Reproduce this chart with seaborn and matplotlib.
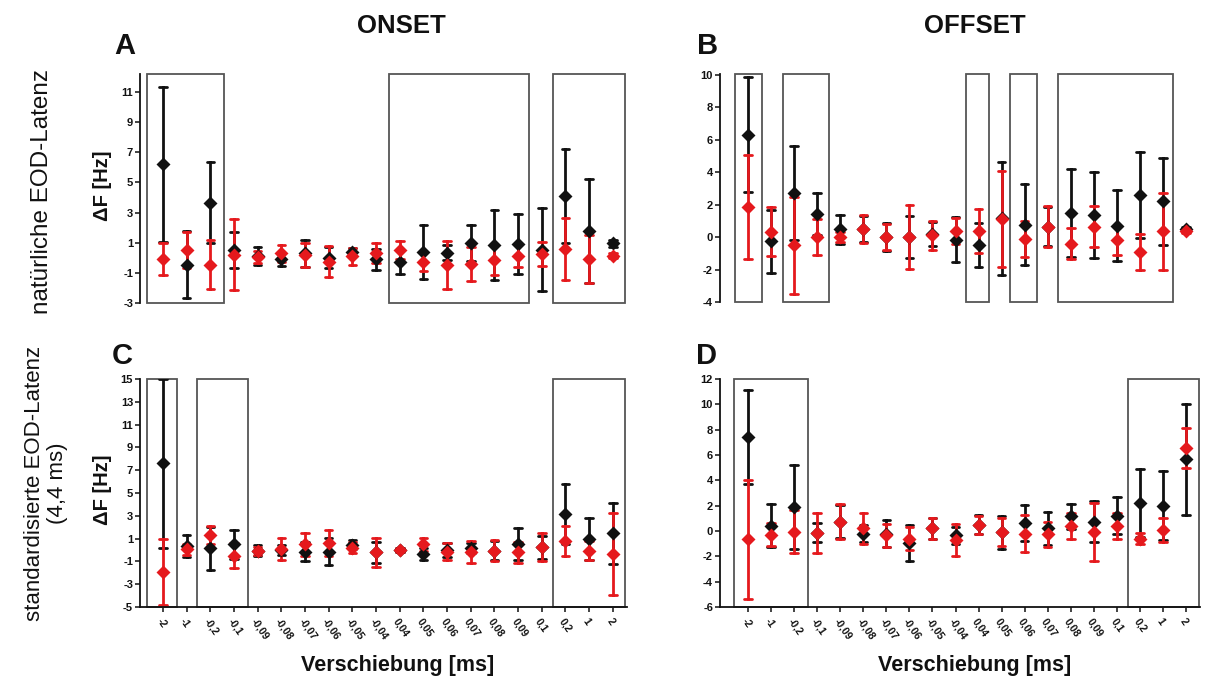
import numpy as np
import pandas as pd
import matplotlib
matplotlib.use("Agg")
import matplotlib.pyplot as plt
import seaborn as sns

# Shift categories (ms), German decimal notation
shift_labels = ["-2", "-1", "-0,2", "-0,1", "-0,09", "-0,08", "-0,07", "-0,06", "-0,05", "-0,04",
                "0,04", "0,05", "0,06", "0,07", "0,08", "0,09", "0,1", "0,2", "1", "2"]

# A: natural EOD latency, onset
a_black_mean = [6.2, -0.45, 3.65, 0.5, 0.1, -0.1, 0.3, 0.0, 0.4, -0.1,
                -0.3, 0.4, 0.35, 1.0, 0.85, 0.9, 0.55, 4.1, 1.75, 0.95]
a_black_sd = [5.15, 2.2, 2.7, 1.2, 0.6, 0.45, 0.9, 0.7, 0.25, 0.7,
              0.8, 1.8, 0.5, 1.2, 2.35, 2.0, 2.75, 3.1, 3.45, 0.2]
a_red_mean = [-0.1, 0.5, -0.45, 0.2, 0.05, 0.3, 0.2, -0.25, 0.1, 0.3,
              0.5, -0.25, -0.5, -0.4, -0.15, 0.15, 0.25, 0.6, -0.1, 0.15]
a_red_sd = [1.05, 1.2, 1.6, 2.35, 0.4, 0.55, 0.8, 1.05, 0.55, 0.65,
            0.6, 0.65, 1.6, 1.15, 1.0, 0.75, 0.8, 2.05, 1.6, 0.15]

# B: natural EOD latency, offset
b_black_mean = [6.3, -0.25, 2.7, 1.4, 0.47, 0.5, 0.0, 0.0, 0.2, -0.15,
                -0.5, 1.15, 0.75, 0.65, 1.5, 1.35, 0.7, 2.6, 2.2, 0.5]
b_black_sd = [3.55, 1.95, 2.9, 1.3, 0.9, 0.8, 0.85, 1.3, 0.75, 1.4,
              1.35, 3.5, 2.5, 1.2, 2.7, 2.65, 2.2, 2.65, 2.7, 0.15]
b_red_mean = [1.85, 0.33, -0.5, 0.0, 0.0, 0.5, 0.0, 0.0, 0.1, 0.35,
              0.4, 1.1, -0.1, 0.65, -0.4, 0.65, -0.2, -0.9, 0.35, 0.35]
b_red_sd = [3.2, 1.5, 3.0, 1.1, 0.3, 0.85, 0.8, 1.95, 0.9, 0.8,
            1.35, 2.95, 1.1, 1.25, 0.95, 1.25, 0.9, 1.1, 2.35, 0.12]

# C: standardised EOD latency (4,4 ms), onset
c_black_mean = [7.6, 0.35, 0.15, 0.5, -0.05, 0.0, -0.15, -0.15, 0.45, -0.2,
                0.0, -0.35, 0.0, 0.2, -0.05, 0.5, 0.25, 3.15, 1.0, 1.45]
c_black_sd = [7.4, 0.95, 1.9, 1.25, 0.5, 0.45, 0.85, 1.2, 0.4, 0.9,
              0.2, 0.5, 0.6, 0.45, 0.8, 1.4, 1.0, 2.6, 1.85, 2.65]
c_red_mean = [-1.9, 0.07, 1.3, -0.5, -0.1, 0.1, 0.5, 0.6, 0.2, -0.2,
              0.0, 0.5, -0.15, -0.2, -0.05, -0.2, 0.25, 0.8, -0.05, -0.35]
c_red_sd = [2.9, 0.5, 0.8, 1.1, 0.35, 0.95, 1.0, 1.15, 0.5, 1.25,
            0.2, 0.55, 0.75, 0.95, 0.95, 0.9, 1.2, 1.3, 0.8, 3.6]

# D: standardised EOD latency (4,4 ms), offset
d_black_mean = [7.45, 0.4, 1.9, -0.15, 0.75, -0.2, -0.2, -0.95, 0.2, -0.35,
                0.5, -0.1, 0.65, 0.2, 1.15, 0.75, 1.2, 2.2, 2.0, 5.65]
d_black_sd = [3.7, 1.7, 3.3, 0.75, 1.3, 0.7, 1.1, 1.4, 0.85, 0.7,
              0.75, 1.3, 1.4, 1.3, 1.0, 1.6, 1.45, 2.7, 2.7, 4.4]
d_red_mean = [-0.65, -0.3, -0.05, -0.15, 0.75, 0.2, -0.35, -0.6, 0.2, -0.7,
              0.5, -0.05, -0.2, -0.25, 0.4, -0.05, 0.4, -0.6, 0.05, 6.55]
d_red_sd = [4.7, 0.9, 1.7, 1.6, 1.35, 1.2, 0.9, 0.9, 0.85, 1.25,
            0.7, 1.1, 1.45, 1.0, 1.0, 2.3, 1.0, 0.45, 0.95, 1.6]

# Highlighted shift ranges (category index spans)
a_boxes = [(-0.68, 2.58), (9.55, 15.47), (16.49, 19.5)]
b_boxes = [(-0.56, 0.61), (1.52, 3.5), (9.46, 10.46), (11.37, 12.54), (13.45, 18.43)]
c_boxes = [(-0.68, 0.59), (1.44, 3.59), (16.49, 19.5)]
d_boxes = [(-0.6, 2.6), (16.5, 19.55)]

BLACK = "#111111"
RED = "#e5191d"
BOX = "#555555"


def long_frame(b_mean, b_sd, r_mean, r_sd):
    """Three rows per point (mean-sd, mean, mean+sd): median gives the point,
    the full percentile interval gives the error bar."""
    rows = []
    for grp, means, sds in (("black", b_mean, b_sd), ("red", r_mean, r_sd)):
        for lab, m, s in zip(shift_labels, means, sds):
            for v in (m - s, m, m + s):
                rows.append((lab, grp, v))
    return pd.DataFrame(rows, columns=["shift", "group", "dF"])


sns.set_theme(style="ticks")
plt.rcParams["font.family"] = ["Liberation Sans", "DejaVu Sans"]

fig = plt.figure(figsize=(12.17, 6.82), dpi=100)
W, H = 1217.0, 682.0


def axes_px(left, top, right, bottom):
    return fig.add_axes([left / W, 1 - bottom / H, (right - left) / W, (bottom - top) / H])


def draw_panel(ax, df, ylim, yticks, boxes, xlim, bottom_row):
    for x0, x1 in boxes:
        ax.axvspan(x0, x1, facecolor="none", edgecolor=BOX, lw=1.3, zorder=1, clip_on=False)
    sns.pointplot(data=df, x="shift", y="dF", hue="group", order=shift_labels,
                  hue_order=["black", "red"], palette={"black": BLACK, "red": RED},
                  estimator="median", errorbar=("pi", 100), markers="D", linestyles="none",
                  capsize=0.32, err_kws={"linewidth": 2.0}, markersize=5.3, dodge=False,
                  legend=False, ax=ax)
    for ln in ax.lines:
        if ln.get_marker() not in (None, "None", "", " "):
            ln.set_zorder(6)
    ax.set_xlim(*xlim)
    ax.set_ylim(*ylim)
    ax.set_yticks(yticks)
    ax.set_yticklabels([str(t) for t in yticks], fontsize=8, fontweight="bold")
    ax.set_xlabel("")
    ax.set_ylabel("")
    sns.despine(ax=ax)
    for side in ("left", "bottom"):
        ax.spines[side].set_linewidth(1.3)
        ax.spines[side].set_color("#111111")
    ax.tick_params(axis="y", length=3.5, width=1.1, pad=1.5, colors="#111111")
    if bottom_row:
        ax.set_xticks(range(len(shift_labels)))
        ax.set_xticklabels(shift_labels, rotation=-55, ha="left", va="top",
                           rotation_mode="anchor", fontsize=7.5, fontweight="bold")
        ax.tick_params(axis="x", length=3.5, width=1.1, pad=3.5, colors="#111111")
    else:
        ax.spines["bottom"].set_visible(False)
        ax.tick_params(axis="x", bottom=False, labelbottom=False)


ax_a = axes_px(140, 74, 627, 303)
ax_b = axes_px(720, 74, 1200, 302)
ax_c = axes_px(140, 379, 627, 607)
ax_d = axes_px(720, 379, 1200, 607)

draw_panel(ax_a, long_frame(a_black_mean, a_black_sd, a_red_mean, a_red_sd),
           (-3, 12.2), [-3, -1, 1, 3, 5, 7, 9, 11], a_boxes, (-0.97, 19.6), False)
draw_panel(ax_b, long_frame(b_black_mean, b_black_sd, b_red_mean, b_red_sd),
           (-4, 10.05), [-4, -2, 0, 2, 4, 6, 8, 10], b_boxes, (-1.21, 19.6), False)
draw_panel(ax_c, long_frame(c_black_mean, c_black_sd, c_red_mean, c_red_sd),
           (-5, 15), list(range(-5, 16, 2)), c_boxes, (-0.97, 19.6), True)
draw_panel(ax_d, long_frame(d_black_mean, d_black_sd, d_red_mean, d_red_sd),
           (-6, 12), list(range(-6, 13, 2)), d_boxes, (-1.21, 19.6), True)


def ftext(px, py, s, **kw):
    fig.text(px / W, 1 - py / H, s, ha="center", va="center", color="#111111", **kw)


ftext(401, 26, "ONSET", fontsize=18.5, fontweight="bold")
ftext(975, 26, "OFFSET", fontsize=18.5, fontweight="bold")
ftext(125, 46, "A", fontsize=21, fontweight="bold")
ftext(708, 46, "B", fontsize=21, fontweight="bold")
ftext(122, 356, "C", fontsize=21, fontweight="bold")
ftext(707, 356, "D", fontsize=21, fontweight="bold")
ftext(102, 186, "ΔF [Hz]", fontsize=14.5, fontweight="bold", rotation=90)
ftext(102, 490, "ΔF [Hz]", fontsize=14.5, fontweight="bold", rotation=90)
ftext(42, 191, "natürliche EOD-Latenz", fontsize=17.5, rotation=90)
ftext(46, 483, "standardisierte EOD-Latenz\n(4,4 ms)", fontsize=16, rotation=90,
      multialignment="center", linespacing=1.1)
ftext(398, 665, "Verschiebung [ms]", fontsize=15.5, fontweight="bold")
ftext(975, 665, "Verschiebung [ms]", fontsize=15.5, fontweight="bold")

fig.savefig("out.png", dpi=100)
